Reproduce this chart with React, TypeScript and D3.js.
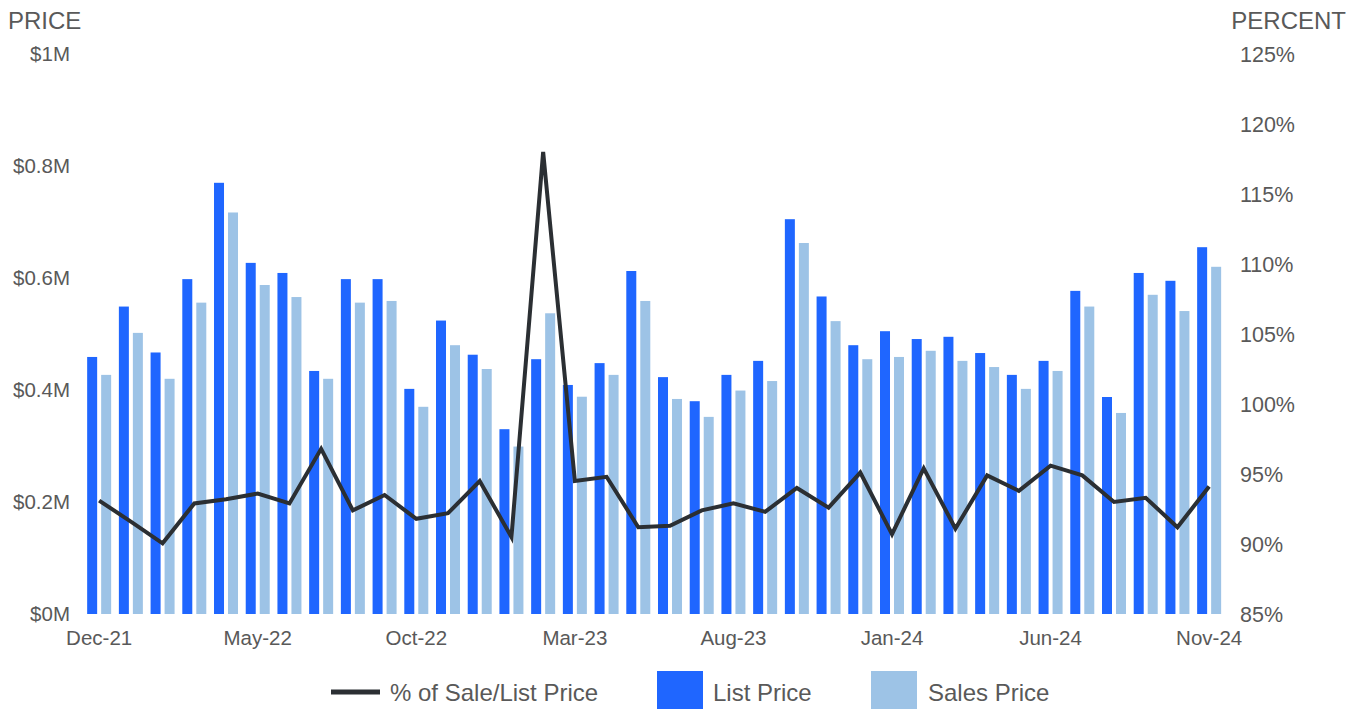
import React from "react";
import * as d3 from "d3";

const months = [
  "Dec-21","Jan-22","Feb-22","Mar-22","Apr-22","May-22","Jun-22","Jul-22","Aug-22","Sep-22","Oct-22","Nov-22",
  "Dec-22","Jan-23","Feb-23","Mar-23","Apr-23","May-23","Jun-23","Jul-23","Aug-23","Sep-23","Oct-23","Nov-23",
  "Dec-23","Jan-24","Feb-24","Mar-24","Apr-24","May-24","Jun-24","Jul-24","Aug-24","Sep-24","Oct-24","Nov-24",
];
const listPrice = [
  0.459,0.549,0.467,0.598,0.770,0.627,0.609,0.434,0.598,0.598,0.402,0.524,
  0.463,0.330,0.455,0.409,0.448,0.6125,0.423,0.380,0.427,0.452,0.705,0.567,
  0.480,0.505,0.491,0.495,0.466,0.427,0.452,0.577,0.3875,0.609,0.595,0.655,
];
const salesPrice = [
  0.427,0.502,0.420,0.556,0.717,0.5875,0.566,0.420,0.556,0.559,0.370,0.480,
  0.4375,0.299,0.537,0.388,0.427,0.559,0.384,0.352,0.399,0.416,0.6625,0.523,
  0.455,0.459,0.470,0.452,0.441,0.402,0.434,0.549,0.359,0.570,0.541,0.620,
];
const pctSaleList = [
  93.1,91.6,90.05,92.9,93.2,93.6,92.9,96.8,92.4,93.5,91.8,92.2,
  94.5,90.5,118.0,94.5,94.8,91.2,91.3,92.4,92.9,92.3,94.0,92.6,
  95.1,90.7,95.4,91.1,94.9,93.8,95.6,94.9,93.0,93.3,91.2,94.1,
];
const priceTicks = [0, 0.2, 0.4, 0.6, 0.8, 1];
const pctTicks = [85, 90, 95, 100, 105, 110, 115, 120, 125];
const xLabels = ["Dec-21","May-22","Oct-22","Mar-23","Aug-23","Jan-24","Jun-24","Nov-24"];

const W = 1360, H = 709;
const FONT = "'Liberation Sans', Arial, sans-serif";
const LIST_C = "#1f66ff";
const SALES_C = "#9dc3e6";
const LINE_C = "#2b2f33";
const TEXT_C = "#595959";

export default function App() {
  const x = d3.scaleBand<string>().domain(months).range([83.3, 1225]).paddingInner(0).paddingOuter(0);
  const yP = d3.scaleLinear().domain([0, 1]).range([614, 54]);
  const yR = d3.scaleLinear().domain([85, 125]).range([614, 54]);
  const barW = 10, gap = 4;
  const cx = (m: string) => (x(m) as number) + x.bandwidth() / 2;
  const line = d3.line<number>().x((_, i) => cx(months[i])).y((d) => yR(d));

  return (
    <svg width={W} height={H} style={{ position: "absolute", left: 0, top: 0, background: "#fff" }} fontFamily={FONT}>
      <rect x={0} y={0} width={W} height={H} fill="#fff" />
      <text x={8} y={29} fontSize={24} fill={TEXT_C}>PRICE</text>
      <text x={1346} y={29} fontSize={24} fill={TEXT_C} textAnchor="end">PERCENT</text>
      {priceTicks.map((t) => (
        <text key={"p" + t} x={70} y={yP(t) + 7} fontSize={20.5} fill={TEXT_C} textAnchor="end">
          {"$" + (t === 0 ? "0" : t === 1 ? "1" : String(t)) + "M"}
        </text>
      ))}
      {pctTicks.map((t) => (
        <text key={"r" + t} x={1240} y={yR(t) + 7.5} fontSize={21.5} fill={TEXT_C}>{t + "%"}</text>
      ))}
      {months.map((m, i) => (
        <g key={m}>
          <rect x={cx(m) - gap / 2 - barW} y={yP(listPrice[i])} width={barW} height={yP(0) - yP(listPrice[i])} fill={LIST_C} />
          <rect x={cx(m) + gap / 2} y={yP(salesPrice[i])} width={barW} height={yP(0) - yP(salesPrice[i])} fill={SALES_C} />
        </g>
      ))}
      <path d={line(pctSaleList) || ""} fill="none" stroke={LINE_C} strokeWidth={4} strokeLinejoin="miter" />
      {xLabels.map((m) => (
        <text key={"x" + m} x={cx(m)} y={645} fontSize={20.5} fill={TEXT_C} textAnchor="middle">{m}</text>
      ))}
      <line x1={331} x2={380} y1={692} y2={692} stroke={LINE_C} strokeWidth={5} />
      <text x={390} y={701} fontSize={24} fill={TEXT_C}>% of Sale/List Price</text>
      <rect x={657} y={671} width={46} height={40} fill={LIST_C} />
      <text x={713} y={701} fontSize={24} fill={TEXT_C}>List Price</text>
      <rect x={871} y={671} width={46} height={40} fill={SALES_C} />
      <text x={928} y={701} fontSize={24} fill={TEXT_C}>Sales Price</text>
    </svg>
  );
}
